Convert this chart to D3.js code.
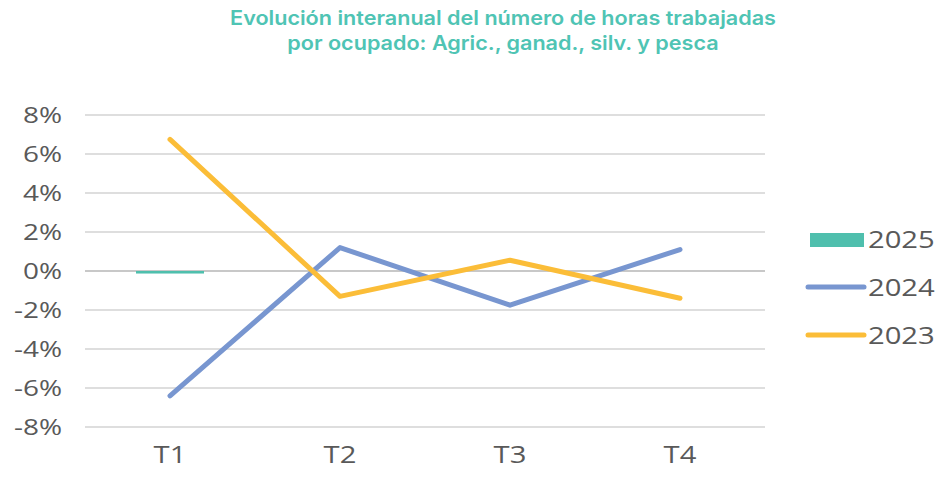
<!DOCTYPE html>
<html><head><meta charset="utf-8">
<script src="https://cdn.jsdelivr.net/npm/d3@7"></script>
<style>body{margin:0;background:#fff}</style>
</head><body>
<svg id="c" width="940" height="477"></svg>
<script>
const categories = ["T1","T2","T3","T4"];
const s2025 = [-0.13, null, null, null];
const s2024 = [-6.4, 1.2, -1.75, 1.1];
const s2023 = [6.75, -1.3, 0.55, -1.4];
const yTicks = [-8,-6,-4,-2,0,2,4,6,8];
const titleLines = ["Evolución interanual del número de horas trabajadas","por ocupado: Agric., ganad., silv. y pesca"];

const svg = d3.select("#c");
const x = d3.scaleBand().domain(categories).range([85,765]);
const y = d3.scaleLinear().domain([-8,8]).range([427,115]);
const font = "'Open Sans', sans-serif";
const SX = 1.27;

svg.append("g").selectAll("text").data(titleLines).join("text")
  .attr("transform",(d,i)=>`translate(503,${25+i*25}) scale(1.08,1)`).attr("text-anchor","middle")
  .attr("font-family","Inter, sans-serif").attr("font-weight",600).attr("font-size",20)
  .attr("fill","#4fc4b4").text(d=>d);

// grid
svg.append("g").selectAll("line").data(yTicks).join("line")
  .attr("x1",85).attr("x2",765).attr("y1",d=>y(d)).attr("y2",d=>y(d))
  .attr("stroke",d=>d===0?"#c8c8c8":"#dedede").attr("stroke-width",2);

// y axis labels
const yAxis = d3.axisLeft(y).tickValues(yTicks).tickSize(0).tickPadding(0).tickFormat(d=>d+"%");
const ya = svg.append("g").attr("transform","translate(62,0)").call(yAxis);
ya.select(".domain").remove();
ya.selectAll("text").attr("font-family",font).attr("font-size",22).attr("fill","#595959")
  .attr("dy","0.35em").attr("transform",`scale(${SX},1)`);

// x axis
const xAxis = d3.axisBottom(x).tickSize(0).tickPadding(0);
const xa = svg.append("g").attr("transform","translate(0,455)").call(xAxis);
xa.select(".domain").remove();
xa.selectAll("text").attr("font-family",font).attr("font-size",23).attr("fill","#595959")
  .attr("dy","0.35em").attr("transform",`scale(${SX},1)`);

// bars 2025
const bw = x.bandwidth()*0.4;
svg.append("g").selectAll("rect").data(categories.map((c,i)=>({c,v:s2025[i]})).filter(d=>d.v!=null)).join("rect")
  .attr("x",d=>x(d.c)+x.bandwidth()/2-bw/2).attr("width",bw)
  .attr("y",d=>Math.min(y(0),y(d.v))).attr("height",d=>Math.abs(y(d.v)-y(0)))
  .attr("fill","#4fbfad");

const line = d3.line().x((d,i)=>x(categories[i])+x.bandwidth()/2).y(d=>y(d));
svg.append("path").datum(s2024).attr("d",line).attr("fill","none").attr("stroke","#7896d0").attr("stroke-width",5).attr("stroke-linejoin","round").attr("stroke-linecap","round");
svg.append("path").datum(s2023).attr("d",line).attr("fill","none").attr("stroke","#fbbd38").attr("stroke-width",5).attr("stroke-linejoin","round").attr("stroke-linecap","round");

// legend
const leg = svg.append("g");
leg.append("rect").attr("x",810).attr("y",233).attr("width",54).attr("height",14).attr("fill","#4fbfad");
leg.append("line").attr("x1",808).attr("x2",864).attr("y1",287).attr("y2",287).attr("stroke","#7896d0").attr("stroke-width",5).attr("stroke-linecap","round");
leg.append("line").attr("x1",808).attr("x2",864).attr("y1",335).attr("y2",335).attr("stroke","#fbbd38").attr("stroke-width",5).attr("stroke-linecap","round");
leg.selectAll("text").data(["2025","2024","2023"]).join("text")
  .attr("transform",(d,i)=>`translate(868,${240+i*48}) scale(${SX},1)`).attr("dy","0.35em")
  .attr("font-family",font).attr("font-size",23).attr("fill","#595959").text(d=>d);
</script>
</body></html>
